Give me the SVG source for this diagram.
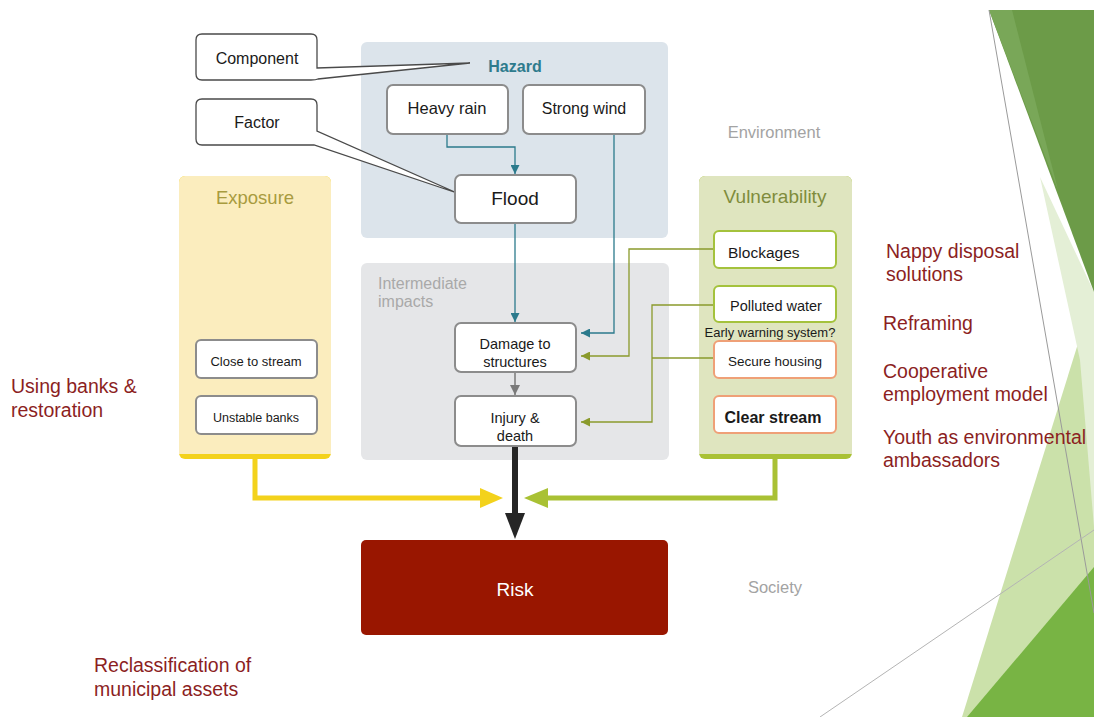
<svg xmlns="http://www.w3.org/2000/svg" width="1094" height="717" viewBox="0 0 1094 717">
  <style>
    text { font-family: "Liberation Sans", Arial, sans-serif; }
    .box { fill: #ffffff; stroke: #8c8c8c; stroke-width: 2; }
    .gbox { fill: #ffffff; stroke: #a4c23c; stroke-width: 2; }
    .obox { fill: #ffffff; stroke: #efa077; stroke-width: 2; }
    .lbl { fill: #1a1a1a; text-anchor: middle; }
    .note { fill: #8c1f1f; font-size: 19.5px; }
    .teal { fill: none; stroke: #2b7a8c; stroke-width: 1.3; }
    .olive { fill: none; stroke: #8a9a2c; stroke-width: 1.3; }
    .callout { fill: #ffffff; stroke: #4a4a4a; stroke-width: 1.3; }
  </style>
  <defs>
    <marker id="aTeal" viewBox="0 0 10 10" refX="10" refY="5" markerWidth="9" markerHeight="9" markerUnits="userSpaceOnUse" orient="auto">
      <path d="M0,0 L10,5 L0,10 Z" fill="#2b7a8c"/>
    </marker>
    <marker id="aOlive" viewBox="0 0 10 10" refX="10" refY="5" markerWidth="9" markerHeight="9" markerUnits="userSpaceOnUse" orient="auto">
      <path d="M0,0 L10,5 L0,10 Z" fill="#8a9a2c"/>
    </marker>
    <marker id="aGray" viewBox="0 0 10 10" refX="10" refY="5" markerWidth="10" markerHeight="10" markerUnits="userSpaceOnUse" orient="auto">
      <path d="M0,0 L10,5 L0,10 Z" fill="#7a7a7a"/>
    </marker>
  </defs>

  <rect width="1094" height="717" fill="#ffffff"/>

  <!-- slide decoration on the right edge -->
  <g id="decoration">
    <polygon points="1094,292 962,717 1094,717" fill="#cbe1aa"/>
    <polygon points="1040,177 1094,292 1094,527 1080,360" fill="#e4efd6"/>
    <polygon points="989,10 1094,10 1094,292" fill="#6c9b48"/>
    <polygon points="989,10 1012,10 1058,190" fill="#79a758"/>
    <polygon points="967,717 1094,717 1094,567" fill="#78b444"/>
    <line x1="989" y1="10" x2="1094" y2="613" stroke="#9a9a9a" stroke-width="1"/>
    <line x1="820" y1="717" x2="1094" y2="530" stroke="#b4b4b4" stroke-width="1"/>
  </g>

  <!-- panels -->
  <g id="hazard-panel">
    <rect x="361" y="42" width="307" height="196" rx="6" fill="#dce4eb"/>
    <text x="515" y="72" font-size="16" font-weight="bold" fill="#2e7b8d" text-anchor="middle">Hazard</text>
  </g>
  <g id="intermediate-panel">
    <rect x="361" y="263" width="308" height="197" rx="6" fill="#e5e6e8"/>
    <text x="378" y="289" font-size="16" fill="#a9a9a9">Intermediate</text>
    <text x="378" y="307" font-size="16" fill="#a9a9a9">impacts</text>
  </g>
  <g id="exposure-panel">
    <rect x="179" y="176" width="152" height="283" rx="6" fill="#f3d21c"/>
    <rect x="179" y="176" width="152" height="278" rx="6" fill="#fbedbe"/>
    <rect x="179" y="440" width="152" height="14" fill="#fbedbe"/>
    <text x="255" y="204" font-size="18.5" fill="#a89b3e" text-anchor="middle">Exposure</text>
  </g>
  <g id="vulnerability-panel">
    <rect x="699" y="176" width="153" height="283" rx="6" fill="#a9c134"/>
    <rect x="699" y="176" width="153" height="278" rx="6" fill="#dfe5bf"/>
    <rect x="699" y="440" width="153" height="14" fill="#dfe5bf"/>
    <text x="775" y="203" font-size="19" fill="#7f8c3c" text-anchor="middle">Vulnerability</text>
  </g>

  <text x="774" y="138" font-size="16.5" fill="#a3a3a3" text-anchor="middle">Environment</text>
  <text x="775" y="593" font-size="16.5" fill="#a3a3a3" text-anchor="middle">Society</text>

  <!-- connectors -->
  <g id="connectors">
    <path class="teal" d="M447,134 V147 H515 V174" marker-end="url(#aTeal)"/>
    <path class="teal" d="M515,223 V322" marker-end="url(#aTeal)"/>
    <path class="teal" d="M614,134 V333 H581" marker-end="url(#aTeal)"/>
    <path class="olive" d="M715,249 H629 V356 H581" marker-end="url(#aOlive)"/>
    <path class="olive" d="M715,305 H652 V422 H581" marker-end="url(#aOlive)"/>
    <path class="olive" d="M715,358 H652"/>
    <path d="M515,372 V395" stroke="#7a7a7a" stroke-width="1.5" fill="none" marker-end="url(#aGray)"/>
    <!-- converging flows into Risk -->
    <path d="M255,459 V498 H482" stroke="#f3d21c" stroke-width="5" fill="none"/>
    <polygon points="503,498 480,488 480,508" fill="#f3d21c"/>
    <path d="M775,459 V498 H546" stroke="#a9c134" stroke-width="5" fill="none"/>
    <polygon points="524,498 548,488 548,508" fill="#a9c134"/>
    <path d="M515,446 V516" stroke="#262626" stroke-width="6" fill="none"/>
    <polygon points="515,539 505,513 525,513" fill="#262626"/>
  </g>

  <!-- callouts -->
  <g id="component">
    <path class="callout" d="M202,34 H311 Q317,34 317,40 V68 L470,63 L318,79 Q316,80 311,80 H202 Q196,80 196,74 V40 Q196,34 202,34 Z"/>
    <text x="257" y="64" font-size="16" class="lbl">Component</text>
  </g>
  <g id="factor">
    <path class="callout" d="M202,99 H311 Q317,99 317,105 V131 L457,193 L314,145 H202 Q196,145 196,139 V105 Q196,99 202,99 Z"/>
    <text x="257" y="128" font-size="16" class="lbl">Factor</text>
  </g>

  <!-- hazard nodes -->
  <g id="heavy-rain">
    <rect class="box" x="387" y="85" width="121" height="49" rx="6"/>
    <text x="447" y="114" font-size="16.5" class="lbl">Heavy rain</text>
  </g>
  <g id="strong-wind">
    <rect class="box" x="523" y="85" width="122" height="49" rx="6"/>
    <text x="584" y="114" font-size="16" class="lbl">Strong wind</text>
  </g>
  <g id="flood">
    <rect class="box" x="455" y="175" width="121" height="48" rx="6"/>
    <text x="515" y="205" font-size="19" class="lbl">Flood</text>
  </g>

  <!-- intermediate impacts -->
  <g id="damage">
    <rect class="box" x="455" y="323" width="121" height="49" rx="6"/>
    <text x="515" y="349" font-size="14.5" class="lbl">Damage to</text>
    <text x="515" y="367" font-size="14.5" class="lbl">structures</text>
  </g>
  <g id="injury">
    <rect class="box" x="455" y="396" width="121" height="50" rx="6"/>
    <text x="515" y="423" font-size="14.5" class="lbl">Injury &amp;</text>
    <text x="515" y="441" font-size="14.5" class="lbl">death</text>
  </g>

  <!-- exposure nodes -->
  <g id="close-to-stream">
    <rect class="box" x="196" y="340" width="121" height="38" rx="5"/>
    <text x="256" y="366" font-size="13" class="lbl">Close to stream</text>
  </g>
  <g id="unstable-banks">
    <rect class="box" x="196" y="396" width="121" height="38" rx="5"/>
    <text x="256" y="422" font-size="12.5" class="lbl">Unstable banks</text>
  </g>

  <!-- vulnerability nodes -->
  <g id="blockages">
    <rect class="gbox" x="714" y="231" width="122" height="37" rx="5"/>
    <text x="728" y="258" font-size="15.5" fill="#1a1a1a">Blockages</text>
  </g>
  <g id="polluted-water">
    <rect class="gbox" x="714" y="286" width="122" height="36" rx="5"/>
    <text x="776" y="311" font-size="14.5" class="lbl">Polluted water</text>
  </g>
  <text x="770" y="337" font-size="13" class="lbl">Early warning system?</text>
  <g id="secure-housing">
    <rect class="obox" x="714" y="341" width="122" height="37" rx="5"/>
    <text x="775" y="366" font-size="13.5" class="lbl">Secure housing</text>
  </g>
  <g id="clear-stream">
    <rect class="obox" x="714" y="396" width="122" height="37" rx="5"/>
    <text x="773" y="423" font-size="16" font-weight="bold" class="lbl">Clear stream</text>
  </g>

  <!-- risk -->
  <g id="risk">
    <rect x="361" y="540" width="307" height="95" rx="5" fill="#991600"/>
    <text x="515" y="596" font-size="19" fill="#ffffff" text-anchor="middle">Risk</text>
  </g>

  <!-- intervention notes -->
  <g id="notes">
    <text class="note" x="886" y="258">Nappy disposal</text>
    <text class="note" x="886" y="281">solutions</text>
    <text class="note" x="883" y="330">Reframing</text>
    <text class="note" x="883" y="378">Cooperative</text>
    <text class="note" x="883" y="401">employment model</text>
    <text class="note" x="883" y="444">Youth as environmental</text>
    <text class="note" x="883" y="467">ambassadors</text>
    <text class="note" x="11" y="393">Using banks &amp;</text>
    <text class="note" x="11" y="417">restoration</text>
    <text class="note" x="94" y="672">Reclassification of</text>
    <text class="note" x="94" y="696">municipal assets</text>
  </g>
</svg>
